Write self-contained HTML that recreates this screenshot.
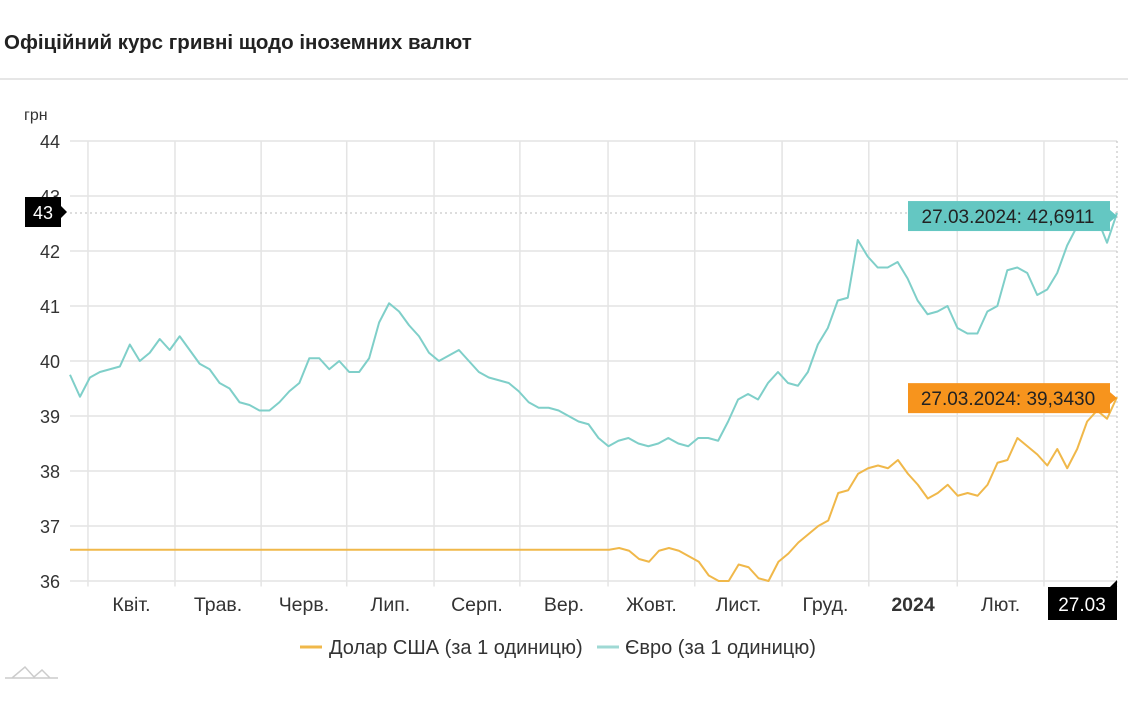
<!DOCTYPE html>
<html><head><meta charset="utf-8">
<style>
body{margin:0;background:#fff;width:1132px;height:701px;overflow:hidden;font-family:"Liberation Sans",sans-serif;}
.title{position:absolute;left:4px;top:31px;font-size:20.5px;font-weight:bold;color:#222;}
.sep{position:absolute;left:0;top:78px;width:1128px;height:2px;background:#e6e6e6;}
</style></head><body>
<div class="title">Офіційний курс гривні щодо іноземних валют</div>
<div class="sep"></div>
<svg id="chart" width="1132" height="701" style="position:absolute;left:0;top:0"></svg>
<script>
const yTicks=[36,37,38,39,40,41,42,43,44];
const monthLabels=["Квіт.","Трав.","Черв.","Лип.","Серп.","Вер.","Жовт.","Лист.","Груд.","2024","Лют."];
const monthStartDays=[6.3,36.8,67,97,127.6,157.7,188.6,219,249.6,280,311,341.4];
const euroValues=[39.75,39.35,39.7,39.8,39.85,39.9,40.3,40.0,40.15,40.4,40.2,40.45,40.2,39.95,39.85,39.6,39.5,39.25,39.2,39.1,39.1,39.25,39.45,39.6,40.05,40.05,39.85,40.0,39.8,39.8,40.05,40.7,41.05,40.9,40.65,40.45,40.15,40.0,40.1,40.2,40.0,39.8,39.7,39.65,39.6,39.45,39.25,39.15,39.15,39.1,39.0,38.9,38.85,38.6,38.45,38.55,38.6,38.5,38.45,38.5,38.6,38.5,38.45,38.6,38.6,38.55,38.9,39.3,39.4,39.3,39.6,39.8,39.6,39.55,39.8,40.3,40.6,41.1,41.15,42.2,41.9,41.7,41.7,41.8,41.5,41.1,40.85,40.9,41.0,40.6,40.5,40.5,40.9,41.0,41.65,41.7,41.6,41.2,41.3,41.6,42.1,42.45,42.45,42.6,42.15,42.69];
const usdFlatValue=36.5686;
const usdFlatEndDay=189;
const usdValues=[36.6,36.55,36.4,36.35,36.55,36.6,36.55,36.45,36.35,36.1,36.0,36.0,36.3,36.25,36.05,36.0,36.35,36.5,36.7,36.85,37.0,37.1,37.6,37.65,37.95,38.05,38.1,38.05,38.2,37.95,37.75,37.5,37.6,37.75,37.55,37.6,37.55,37.75,38.15,38.2,38.6,38.45,38.3,38.1,38.4,38.05,38.4,38.9,39.1,38.95,39.343];
const totalDays=367;

const svg=document.getElementById('chart');
const NS='http://www.w3.org/2000/svg';
const X0=70,X1=1117,Y0=141,PPU=55;
const xs=d=>X0+d*(X1-X0)/totalDays;
const ys=v=>Y0+(44-v)*PPU;
function mk(tag,attrs,txt){const e=document.createElementNS(NS,tag);for(const k in attrs)e.setAttribute(k,attrs[k]);if(txt!=null)e.textContent=txt;svg.appendChild(e);return e;}

let t=mk('text',{x:24,y:120,'font-size':16,fill:'#333'},'грн');


yTicks.forEach(v=>{
  const l=mk('line',{x1:X0,x2:X1,y1:ys(v),y2:ys(v),stroke:'#e4e4e4','stroke-width':1.5});
  
  
  const tx=mk('text',{x:60,y:ys(v)+7,'font-size':18,fill:'#333','text-anchor':'end'},String(v));
  
  
});
monthStartDays.forEach(d=>{
  const l=mk('line',{x1:xs(d),x2:xs(d),y1:Y0,y2:ys(35.9),stroke:'#e4e4e4','stroke-width':1.5});
  
  
});
monthLabels.forEach((m,i)=>{
  const cx=(xs(monthStartDays[i])+xs(monthStartDays[i+1]))/2;
  const tx=mk('text',{x:cx,y:611,'font-size':19.5,fill:'#333','text-anchor':'middle','font-weight':m==='2024'?'bold':'normal'},m);
  
  
});
let ch=mk('line',{x1:X0,x2:X1,y1:ys(42.69),y2:ys(42.69),stroke:'#bbb','stroke-dasharray':'2,3'});


ch=mk('line',{x1:X1,x2:X1,y1:Y0,y2:ys(35.9),stroke:'#bbb','stroke-dasharray':'2,3'});



const eStep=totalDays/(euroValues.length-1);
let p=mk('polyline',{points:euroValues.map((v,i)=>xs(i*eStep)+','+ys(v)).join(' '),fill:'none',stroke:'#7fcfc9','stroke-width':2,'stroke-linejoin':'round'});


const uStep=(totalDays-usdFlatEndDay)/usdValues.length;
const upts=[[0,usdFlatValue],[usdFlatEndDay,usdFlatValue]].concat(usdValues.map((v,i)=>[usdFlatEndDay+(i+1)*uStep,v]));
p=mk('polyline',{points:upts.map(a=>xs(a[0])+','+ys(a[1])).join(' '),fill:'none',stroke:'#f0b84a','stroke-width':2,'stroke-linejoin':'round'});



function tip(y,color,txt,name){
  const r=mk('rect',{x:908,y:y-15,width:202,height:30,fill:color});
  
  
  mk('path',{d:`M1110 ${y-6} L1117 ${y} L1110 ${y+6}Z`,fill:color});
  const tx=mk('text',{x:1008,y:y+7,'font-size':19,fill:'#222','text-anchor':'middle'},txt);
  
  
}
tip(ys(42.69)+3,'#64c7c2','27.03.2024: 42,6911','euro-tooltip');
tip(ys(39.343)+1,'#f7941d','27.03.2024: 39,3430','usd-tooltip');

let r=mk('rect',{x:25,y:197,width:36,height:30,fill:'#000'});


mk('path',{d:'M61 206 L67 212 L61 218Z',fill:'#000'});
t=mk('text',{x:43,y:219,'font-size':18,fill:'#fff','text-anchor':'middle'},'43');


r=mk('rect',{x:1048,y:587,width:69,height:33,fill:'#000'});


mk('path',{d:'M1110 587 L1117 580 L1117 587Z',fill:'#000'});
t=mk('text',{x:1082,y:611,'font-size':19,fill:'#fff','text-anchor':'middle'},'27.03');



let g=mk('line',{x1:300,x2:322,y1:647,y2:647,stroke:'#f0b84a','stroke-width':3});


t=mk('text',{x:329,y:654,'font-size':20,fill:'#333'},'Долар США (за 1 одиницю)');


g=mk('line',{x1:597,x2:619,y1:647,y2:647,stroke:'#9fd9d4','stroke-width':3});


t=mk('text',{x:625,y:654,'font-size':20,fill:'#333'},'Євро (за 1 одиницю)');


p=mk('path',{d:'M5 678 L58 678 M12 678 L25 667 L34 677 L42 670 L50 678',fill:'none',stroke:'#ccc','stroke-width':1.5});


</script>
</body></html>
